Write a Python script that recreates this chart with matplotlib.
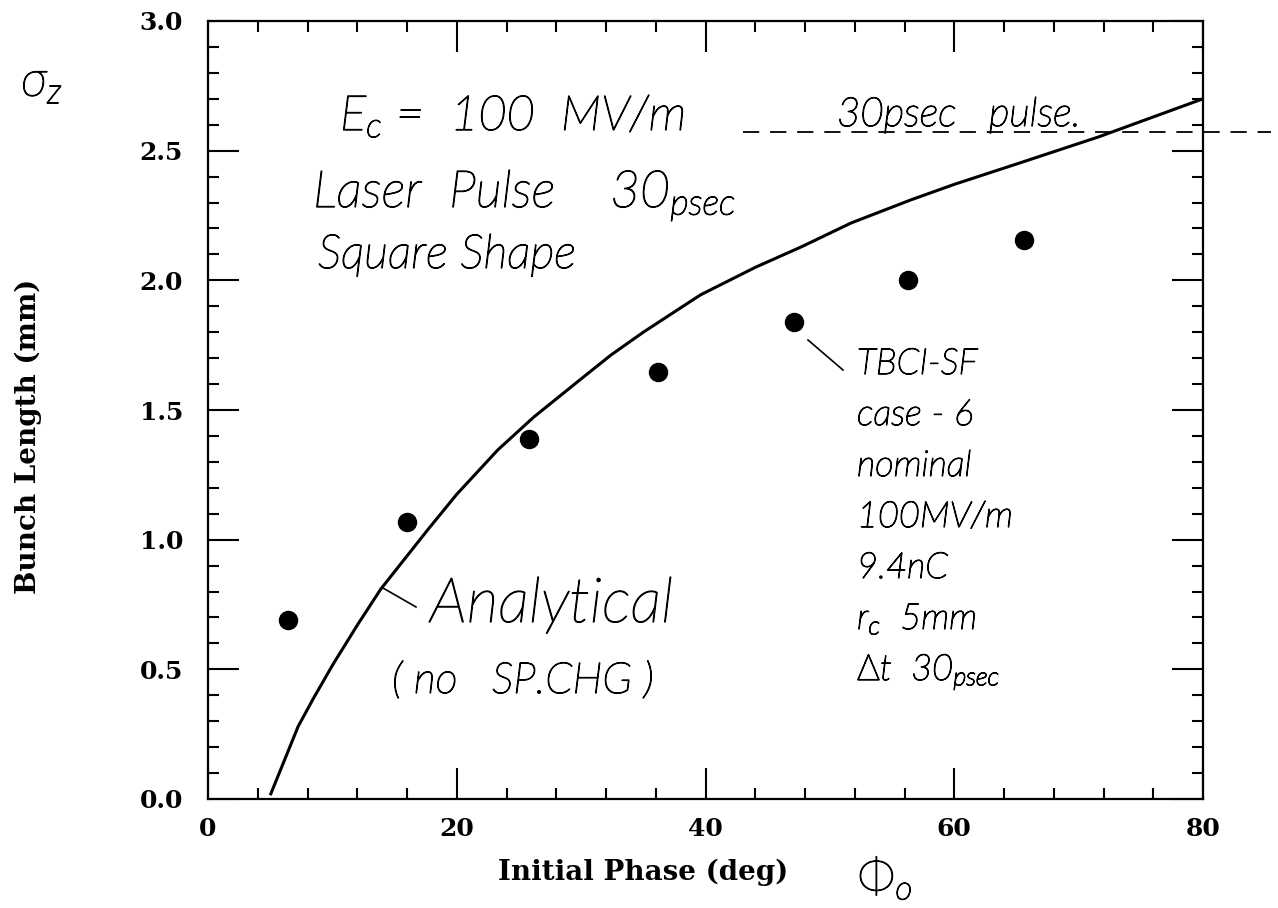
import numpy as np
import matplotlib
matplotlib.use("Agg")
import matplotlib.pyplot as plt
import matplotlib.patheffects as pe

# TBCI-SF simulation results (case 6)
phase_sim = [6.4, 16.0, 25.8, 36.2, 47.1, 56.3, 65.6]
length_sim = [0.69, 1.07, 1.39, 1.645, 1.84, 2.00, 2.155]

# analytical bunch length, no space charge
phase_ana = [5.05, 7.25, 8.5, 10.06, 12.0, 13.9, 17.7, 20.0, 23.3, 26.2, 30.0,
             32.4, 35.0, 39.6, 44.0, 47.7, 51.7, 56.5, 60.0, 65.1, 71.6, 76.0, 80.0]
length_ana = [0.02, 0.28, 0.39, 0.52, 0.67, 0.81, 1.04, 1.175, 1.346, 1.473, 1.62,
              1.712, 1.80, 1.944, 2.05, 2.129, 2.221, 2.31, 2.37, 2.45, 2.553, 2.63, 2.70]

pulse_level = 2.572   # 30 psec laser pulse length

xticks = [0, 20, 40, 60, 80]
yticks = [0.0, 0.5, 1.0, 1.5, 2.0, 2.5, 3.0]

plt.rcParams['mathtext.fontset'] = 'custom'
plt.rcParams['mathtext.it'] = 'Lato:italic:light'
plt.rcParams['mathtext.rm'] = 'Lato:light'

ink = [pe.withStroke(linewidth=0.9, foreground='black')]
hand = dict(family='Lato', style='italic', weight='light', color='black',
            path_effects=ink)
serif = dict(family='DejaVu Serif', weight='bold')

W, H = 1278, 908
fig = plt.figure(figsize=(W / 100, H / 100), dpi=100)
ax = fig.add_axes([208 / W, 1 - 799 / H, (1203 - 208) / W, (799 - 21) / H])

ax.plot(phase_ana, length_ana, color='black', lw=2.2)
ax.plot(phase_sim, length_sim, 'o', color='black', ms=13)

ax.plot([43, 85.5], [pulse_level, pulse_level], color='black', lw=1.3,
        dashes=(9, 6), clip_on=False)

ax.set_xlim(0, 80)
ax.set_ylim(0, 3.0)
ax.set_xticks(xticks)
ax.set_yticks(yticks)
ax.set_xticklabels([str(t) for t in xticks], fontsize=18, **serif)
ax.set_yticklabels(['%.1f' % t for t in yticks], fontsize=18, **serif)
ax.set_xticks(np.arange(0, 81, 4), minor=True)
ax.set_yticks(np.arange(0, 3.01, 0.1), minor=True)
ax.tick_params(which='both', direction='in', top=True, right=True, width=1.5)
ax.tick_params(which='major', length=22, pad=13)
ax.tick_params(which='minor', length=8)
ax.tick_params(axis='y', which='major', pad=18)
for s in ax.spines.values():
    s.set_linewidth(1.6)

# pixel position -> axes fraction
def afx(px):
    return (px - 208) / 995

def afy(py):
    return (799 - py) / 778

ax.set_xlabel('Initial Phase (deg)', fontsize=20, va='center', **serif)
ax.xaxis.set_label_coords(afx(643), afy(872))
ax.set_ylabel('Bunch Length (mm)', fontsize=20, va='center', **serif)
ax.yaxis.set_label_coords(afx(28), afy(436))

# notes written on the plot
ax.text(afx(340), afy(130), r'$E_c$ =  100  MV/m', fontsize=35,
        transform=ax.transAxes, **hand)
ax.text(afx(313), afy(207), r'Laser  Pulse    30$_{psec}$', fontsize=37,
        transform=ax.transAxes, **hand)
ax.text(afx(318), afy(268), 'Square Shape', fontsize=34,
        transform=ax.transAxes, **hand)
ax.text(afx(837), afy(126), '30psec   pulse.', fontsize=29,
        transform=ax.transAxes, **hand)

ax.text(afx(430), afy(622), 'Analytical', fontsize=45,
        transform=ax.transAxes, **hand)
ax.text(afx(392), afy(693), '( no   SP.CHG )', fontsize=31,
        transform=ax.transAxes, **hand)
ax.plot([afx(383), afx(416)], [afy(588), afy(607)], color='black', lw=1.2,
        transform=ax.transAxes)

ax.plot([afx(808), afx(843)], [afy(340), afy(370)], color='black', lw=1.2,
        transform=ax.transAxes)
notes = ['TBCI-SF', 'case - 6', 'nominal', '100MV/m', '9.4nC',
         r'$r_c$  5mm', r'$\Delta$t  30$_{psec}$']
for i, s in enumerate(notes):
    ax.text(afx(857), afy(374 + 51 * i), s, fontsize=26,
            transform=ax.transAxes, **hand)

fig.text(42 / W, 1 - 82 / H, r'$\sigma_z$', fontsize=36, ha='center', va='center',
         color='black', path_effects=ink)
fig.text(885 / W, 1 - 878 / H, r'$\Phi_o$', fontsize=34, ha='center', va='center',
         color='black', path_effects=ink)

fig.savefig('out.png', dpi=100)
